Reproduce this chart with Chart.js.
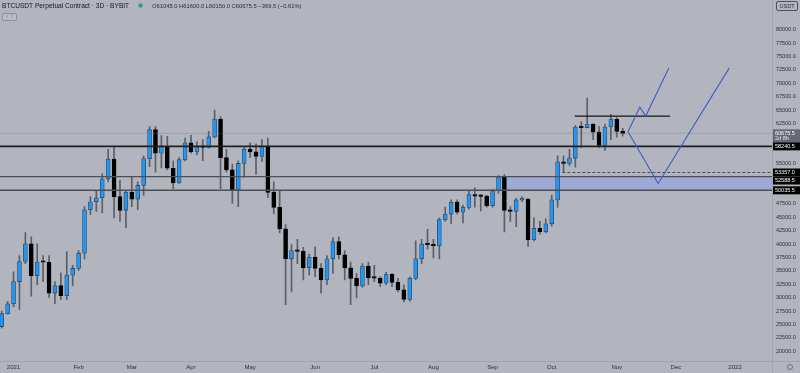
<!DOCTYPE html>
<html>
<head>
<meta charset="utf-8">
<script src="https://cdn.jsdelivr.net/npm/chart.js@4.4.0/dist/chart.umd.min.js"></script>
<style>
  html, body { margin: 0; padding: 0; background: #b2b5be; }
  canvas { display: block; }
</style>
</head>
<body>
<canvas id="btcChart" width="800" height="373"></canvas>
<script>
// ------------------- Data (3D candles, BYBIT BTCUSDT) -------------------
const candleOpen = [
  24600, 27000, 28850, 33000, 36750, 40050, 34100, 36650, 36600, 30850,
  32250, 30350, 34200, 35450, 38300, 46400, 47900, 48650, 52200, 55850,
  48850, 46300, 49650, 48400, 50950, 55950, 61350, 56950, 58150, 54150,
  51400, 55750, 58900, 57200, 58150, 58050, 60000, 63350, 56150, 53850,
  50050, 55050, 57700, 57200, 56350, 58300, 49650, 46850, 42850, 37250,
  38800, 38650, 35600, 37550, 35450, 33300, 37250, 40450, 38000, 35550,
  33600, 32200, 35900, 33700, 33650, 32700, 34350, 32850, 31450, 29650,
  33600, 37250, 40000, 39900, 39700, 44550, 45600, 47800, 45950, 46850,
  49250, 48950, 48900, 47150, 49950, 52500, 46300, 46100, 48250, 48350,
  40800, 42950, 42300, 43800, 48250, 55350, 55050, 56050, 61850, 61750,
  62400, 60900, 58400, 61850, 63300, 61045
];
const candleHigh = [
  27500, 29300, 34800, 37850, 42150, 41350, 40050, 37850, 37850, 33000,
  34650, 38600, 36050, 38800, 47000, 48850, 49950, 53100, 57700, 58300,
  51900, 50050, 52600, 51600, 56450, 61950, 61950, 60250, 60100, 55550,
  56150, 59800, 60300, 59100, 59500, 61050, 65000, 63800, 57700, 54950,
  55550, 58000, 58900, 58700, 59500, 59800, 51600, 49950, 43650, 39900,
  40900, 39400, 38150, 39500, 36350, 37850, 41200, 41350, 38800, 36650,
  34500, 36350, 36650, 36050, 33900, 34700, 34500, 33600, 32400, 33900,
  40600, 40900, 42750, 40900, 44900, 46900, 48250, 48250, 47300, 49900,
  50500, 49250, 49150, 50200, 52800, 52950, 47000, 48550, 48850, 48550,
  44900, 44250, 44700, 49150, 56450, 56450, 57700, 62150, 62850, 67250,
  62450, 61950, 62400, 64200, 63600, 61600
];
const candleLow = [
  24300, 26900, 28250, 27800, 36350, 30250, 32400, 33000, 30050, 28850,
  29650, 29650, 32250, 35100, 37250, 45500, 46100, 45800, 51600, 44900,
  44250, 43050, 47000, 46400, 49150, 54450, 53400, 54200, 53850, 50350,
  51300, 55500, 56950, 56650, 55550, 57950, 59800, 50350, 53400, 47600,
  47000, 52500, 56150, 53000, 55400, 48650, 45650, 42150, 28700, 31050,
  36350, 33300, 34200, 33900, 30850, 32400, 34500, 37250, 33300, 28700,
  29950, 31900, 32400, 33000, 32050, 32400, 32050, 31050, 29200, 29350,
  33300, 36350, 39100, 37400, 37250, 44250, 43850, 45650, 43950, 46500,
  46900, 46200, 46900, 46900, 49450, 42250, 44250, 43250, 47900, 39550,
  40600, 41850, 42100, 43350, 46900, 53400, 54650, 54350, 58000, 61700,
  59500, 58000, 57500, 59500, 59950, 60150
];
const candleClose = [
  27000, 28850, 33000, 36750, 40050, 34100, 36650, 36600, 30850, 32250,
  30350, 34200, 35450, 38300, 46400, 47900, 48650, 52200, 55850, 48850,
  46300, 49650, 48400, 50950, 55950, 61350, 56950, 58150, 54150, 51400,
  55750, 58900, 57200, 58150, 58050, 60000, 63350, 56150, 53850, 50050,
  55050, 57700, 57200, 56350, 58300, 49650, 46850, 42850, 37250, 38800,
  38650, 35600, 37550, 35450, 33300, 37250, 40450, 38000, 35550, 33600,
  32200, 35900, 33700, 33650, 32700, 34350, 32850, 31450, 29650, 33600,
  37250, 40000, 39900, 39700, 44550, 45600, 47800, 45950, 46850, 49250,
  48950, 48900, 47150, 49950, 52500, 46300, 46100, 48250, 48350, 40800,
  42950, 42300, 43800, 48250, 55350, 55050, 56050, 61850, 61750, 62400,
  60900, 58400, 61850, 63300, 61050, 60675.5
];

// first candle: 26 Dec 2020 (day -6 of 2021), one candle every 3 days
const firstCandleDay = -6;
const daysPerCandle = 3;

const monthLabels = ["2021", "Feb", "Mar", "Apr", "May", "Jun", "Jul", "Aug", "Sep", "Oct", "Nov", "Dec", "2022"];
const monthStartDays = [0, 31, 59, 90, 120, 151, 181, 212, 243, 273, 304, 334, 365];

const yTickValues = [20000, 22500, 25000, 27500, 30000, 32500, 35000, 37500, 40000, 42500,
  45000, 47500, 55000, 62500, 65000, 67500, 70000, 72500, 75000, 77500, 80000];

// drawings (x in candle index units)
const supportLevel = 58240.5;
const zoneTop = 52588.5;
const zoneBottom = 50035.5;
const zoneStartIndex = 84.3;
const dashedLevel = 53357.0;
const dashedStartIndex = 94.8;
const resistanceLevel = 63900;
const resistanceRange = [96.9, 113.0];
const pathAX = [105.9, 107.9, 108.9, 112.8];
const pathAY = [60950, 65550, 63900, 72850];
const pathBX = [105.9, 111.0, 123.0];
const pathBY = [60950, 51300, 72850];

const lastPrice = 60675.5;
const countdown = "2d 8h";

// axis window
const xMin = -0.29;
const xMax = 130.25;
const yMin = 18170;
const yMax = 84200;

// ------------------- Helper Functions -------------------
const UP = "#2196f3";
const DOWN = "#000000";
const BG = "#b2b5be";

// time axis labels sit on the first candle of each month
function monthToIndex(d) {
  return Math.ceil((d - firstCandleDay) / daysPerCandle);
}

function hLine(y, x0, x1, color, width, dash) {
  return {
    type: "line",
    data: [{ x: x0, y: y }, { x: x1, y: y }],
    borderColor: color,
    borderWidth: width,
    borderDash: dash || [],
    pointRadius: 0,
    fill: false,
    order: 1,
  };
}

function pathLine(xs, ys) {
  return {
    type: "line",
    data: xs.map((x, i) => ({ x: x, y: ys[i] })),
    borderColor: "#3c5fc4",
    borderWidth: 1.1,
    pointRadius: 0,
    fill: false,
    tension: 0,
    order: 0,
  };
}

const idx = candleOpen.map((_, i) => i);
const wickData = idx.map((i) => ({ x: i, y: [candleLow[i], candleHigh[i]] }));
const bodyData = idx.map((i) => ({
  x: i,
  y: [Math.min(candleOpen[i], candleClose[i]), Math.max(candleOpen[i], candleClose[i])],
}));
const bodyColors = idx.map((i) => (candleClose[i] >= candleOpen[i] ? UP : DOWN));
const bodyBorders = idx.map((i) => (candleClose[i] >= candleOpen[i] ? "#2f4d6b" : DOWN));
const monthTicks = monthStartDays.map(monthToIndex);

// overlay: header, price labels, axis frame
const overlayPlugin = {
  id: "overlay",
  afterDraw(chart) {
    const ctx = chart.ctx;
    const area = chart.chartArea;
    const yScale = chart.scales.y;
    ctx.save();

    // separators
    ctx.strokeStyle = "#a1a4ac";
    ctx.lineWidth = 1;
    ctx.beginPath();
    ctx.moveTo(area.right + 0.5, 0);
    ctx.lineTo(area.right + 0.5, chart.height);
    ctx.moveTo(0, area.bottom + 0.5);
    ctx.lineTo(chart.width, area.bottom + 0.5);
    ctx.stroke();

    // header
    ctx.fillStyle = "#131722";
    ctx.textBaseline = "middle";
    ctx.font = "6.6px 'Liberation Sans', sans-serif";
    ctx.fillText("BTCUSDT Perpetual Contract · 3D · BYBIT", 2, 6);
    ctx.fillStyle = "#22a094";
    ctx.beginPath();
    ctx.arc(140.5, 5.5, 2.2, 0, Math.PI * 2);
    ctx.fill();
    ctx.fillStyle = "#2a2e39";
    ctx.font = "5.8px 'Liberation Sans', sans-serif";
    ctx.fillText("O61045.0 H61600.0 L60150.0 C60675.5 −369.5 (−0.61%)", 152, 6);

    // collapse box
    ctx.strokeStyle = "#8d9099";
    ctx.fillStyle = "#bcbfc7";
    ctx.beginPath();
    ctx.roundRect(2.5, 13.5, 14, 7, 1.5);
    ctx.fill();
    ctx.stroke();
    ctx.fillStyle = "#8d9099";
    ctx.font = "5px 'DejaVu Sans', sans-serif";
    ctx.fillText("∨ 3", 5, 17.2);

    // USDT box
    ctx.strokeStyle = "#50535e";
    ctx.fillStyle = BG;
    ctx.beginPath();
    ctx.roundRect(776.5, 1.5, 21, 9, 1.5);
    ctx.fill();
    ctx.stroke();
    ctx.fillStyle = "#2a2e39";
    ctx.font = "5.5px 'Liberation Sans', sans-serif";
    ctx.textAlign = "center";
    ctx.fillText("USDT", 787, 6.2);

    // settings circle
    ctx.strokeStyle = "#6f727b";
    ctx.beginPath();
    ctx.arc(790, 367, 2.5, 0, Math.PI * 2);
    ctx.stroke();

    // price labels on the right axis
    const labels = [
      { value: supportLevel, bg: "#000000" },
      { value: dashedLevel, bg: "#000000" },
      { value: zoneTop, bg: "#000000" },
      { value: zoneBottom, bg: "#000000" },
    ];
    ctx.font = "5.5px 'Liberation Sans', sans-serif";
    ctx.textAlign = "left";
    // last price with countdown
    const ly = yScale.getPixelForValue(lastPrice);
    ctx.fillStyle = "#676a75";
    ctx.fillRect(area.right + 1, ly - 4, 27, 13);
    ctx.fillStyle = "#ffffff";
    ctx.fillText(lastPrice.toFixed(1), area.right + 3, ly - 0.2);
    ctx.fillStyle = "#e6e7ea";
    ctx.fillText(countdown, area.right + 3, ly + 5.6);
    let prevBottom = ly + 9;
    labels.forEach((lb) => {
      let top = yScale.getPixelForValue(lb.value) - 4;
      if (top < prevBottom) top = prevBottom;
      ctx.fillStyle = lb.bg;
      ctx.fillRect(area.right + 1, top, 27, 8);
      ctx.fillStyle = "#ffffff";
      ctx.fillText(lb.value.toFixed(1), area.right + 3, top + 4.2);
      prevBottom = top + 8;
    });
    ctx.restore();
  },
};

const bgPlugin = {
  id: "bg",
  beforeDraw(chart) {
    const ctx = chart.ctx;
    ctx.save();
    ctx.fillStyle = BG;
    ctx.fillRect(0, 0, chart.width, chart.height);
    ctx.restore();
  },
};

new Chart(document.getElementById("btcChart"), {
  type: "bar",
  data: {
    datasets: [
      // blue zone
      {
        type: "line",
        data: [{ x: zoneStartIndex, y: zoneTop }, { x: xMax, y: zoneTop }],
        borderWidth: 0,
        pointRadius: 0,
        backgroundColor: "#9eaad5",
        fill: "+1",
        order: 10,
      },
      {
        type: "line",
        data: [{ x: zoneStartIndex, y: zoneBottom }, { x: xMax, y: zoneBottom }],
        borderWidth: 0,
        pointRadius: 0,
        fill: false,
        order: 10,
      },
      // last price line
      hLine(lastPrice, xMin, xMax, "rgba(120,124,136,0.35)", 1),
      // wicks
      {
        type: "bar",
        data: wickData,
        backgroundColor: "#5b5f68",
        barThickness: 1,
        grouped: false,
        order: 5,
      },
      // bodies
      {
        type: "bar",
        data: bodyData,
        backgroundColor: bodyColors,
        borderColor: bodyBorders,
        borderWidth: 0.8,
        borderSkipped: false,
        barThickness: 4,
        minBarLength: 1.5,
        grouped: false,
        order: 4,
      },
      // horizontal levels
      hLine(supportLevel, xMin, xMax, "#1e1f24", 1.8),
      hLine(zoneTop, xMin, xMax, "#4c4f58", 1.4),
      hLine(zoneBottom, xMin, xMax, "#4c4f58", 1.4),
      hLine(dashedLevel, dashedStartIndex, xMax, "#4a4d55", 1, [3, 2]),
      hLine(resistanceLevel, resistanceRange[0], resistanceRange[1], "#15161a", 1.2),
      // projected path
      pathLine(pathAX, pathAY),
      pathLine(pathBX, pathBY),
    ],
  },
  options: {
    responsive: false,
    animation: false,
    layout: { padding: 0, autoPadding: false },
    plugins: {
      legend: { display: false },
      tooltip: { enabled: false },
    },
    scales: {
      x: {
        type: "linear",
        offset: false,
        min: xMin,
        max: xMax,
        grid: { display: false, drawTicks: false, offset: false },
        border: { display: false },
        afterBuildTicks: (scale) => {
          scale.ticks = monthTicks.map((v) => ({ value: v }));
        },
        afterFit: (scale) => {
          scale.height = 12;
        },
        ticks: {
          autoSkip: false,
          maxRotation: 0,
          padding: 2.5,
          color: "#2a2e39",
          font: { size: 6, family: "'Liberation Sans', sans-serif" },
          callback: (value, index) => monthLabels[index],
        },
      },
      y: {
        type: "linear",
        position: "right",
        min: yMin,
        max: yMax,
        grid: { display: false, drawTicks: false },
        border: { display: false },
        afterBuildTicks: (scale) => {
          scale.ticks = yTickValues.map((v) => ({ value: v }));
        },
        afterFit: (scale) => {
          scale.width = 28;
        },
        ticks: {
          autoSkip: false,
          padding: 4,
          color: "#2a2e39",
          font: { size: 5.5, family: "'Liberation Sans', sans-serif" },
          callback: (value) => value.toFixed(1),
        },
      },
    },
  },
  plugins: [bgPlugin, overlayPlugin],
});
</script>
</body>
</html>
